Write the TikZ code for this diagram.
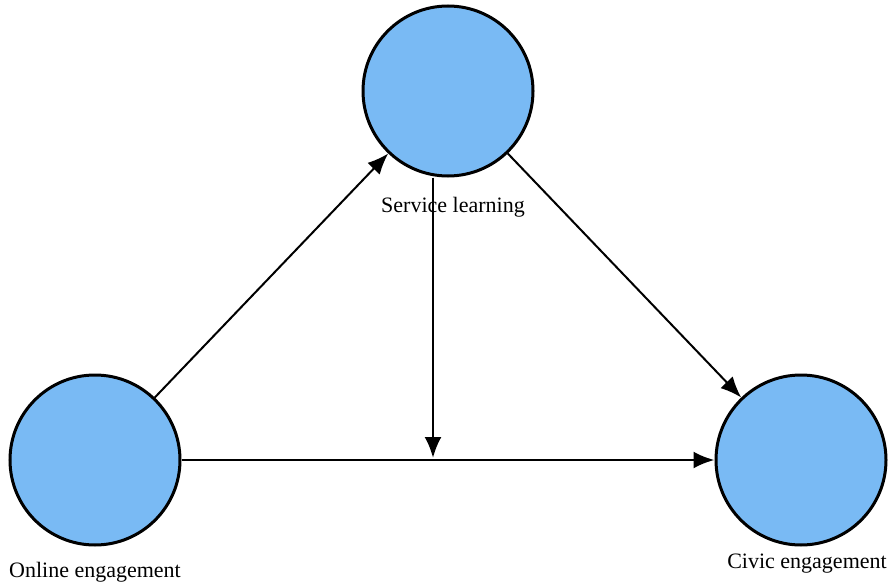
\documentclass[tikz,border=0pt]{standalone}
\usepackage{fontspec}
\setmainfont{Liberation Serif}
\usetikzlibrary{arrows.meta}
\usetikzlibrary{positioning}
\definecolor{nodeblue}{RGB}{121,186,244}

\begin{document}
\begin{tikzpicture}[
  x=1pt, y=-1pt,
  every node/.style={inner sep=0},
  outer/.style={draw,circle,fill=nodeblue,line width=3pt,minimum size=170pt},
  lbl/.style={font=\fontsize{22}{26}\selectfont,anchor=base},
  ar/.style={-{Latex[length=21pt,width=17pt]}},
  thin ar/.style={ar,line width=2pt},
  thick ar/.style={ar,line width=2.7pt}
  ] %
    \useasboundingbox (0,0) rectangle (889,586);
    \node[outer](sl) at (448,91){};
    \node[outer](oe) at (95,460){};
    \node[outer](ce) at (801,460){};
    \node[lbl](sllbl) at (453,212){Service learning};
    \node[lbl](oelbl) at (95,577){Online engagement};
    \node[lbl](celbl) at (807,568){Civic engagement};
    \coordinate (mid) at (433,458);
    \draw[thin ar] (oe) -- (sl);
    \draw[thin ar] (sl) -- (ce);
    \draw[thick ar] (oe) -- (ce);
    \draw[thick ar] (mid |- sl.south) -- (mid);
  \end{tikzpicture}
\end{document}
